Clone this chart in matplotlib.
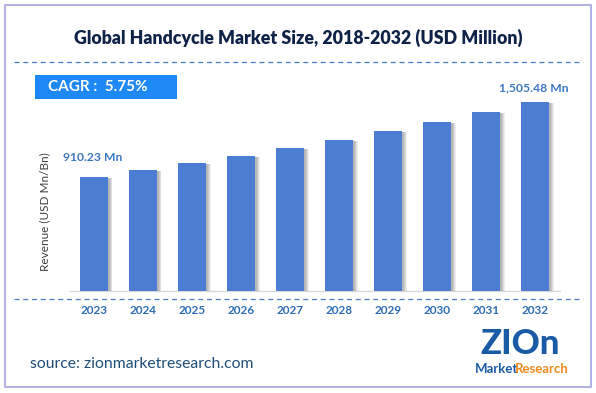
import matplotlib
matplotlib.use("Agg")
import matplotlib.pyplot as plt
import matplotlib.patheffects as pe
from matplotlib.patches import Rectangle

years = ["2023", "2024", "2025", "2026", "2027", "2028", "2029", "2030", "2031", "2032"]
revenue = [910.23, 962.0, 1020.0, 1076.0, 1139.0, 1204.0, 1274.0, 1346.0, 1424.0, 1505.48]
first_label = "910.23 Mn"
last_label = "1,505.48 Mn"
title = "Global Handcycle Market Size, 2018-2032 (USD Million)"
cagr_text = "CAGR :  5.75%"
ylabel = "Revenue (USD Mn/Bn)"
source = "source: zionmarketresearch.com"

W, H = 596, 393
fig = plt.figure(figsize=(W / 100, H / 100), dpi=100)
fig.patch.set_facecolor("white")

def fx(x):
    return x / W

def fy(y):
    return 1 - y / H

FONT = "Lato"

# outer border
fig.patches.append(Rectangle((fx(5), fy(387)), fx(586), 382 / H, transform=fig.transFigure,
                             fill=False, edgecolor="#a3a3e0", linewidth=1.2))

# title
fig.text(fx(298), fy(38), title, ha="center", va="center", fontsize=12.8,
         fontweight="heavy", color="#0f2248", family=FONT)

# dashed line under title
fig.lines.append(plt.Line2D([fx(14), fx(583)], [fy(62), fy(62)], transform=fig.transFigure,
                            color="#4a7ccc", linewidth=0.9, linestyle=(0, (4, 3))))

# CAGR box
fig.patches.append(Rectangle((fx(35), fy(99)), fx(142), 24 / H, transform=fig.transFigure,
                             facecolor="#1e88f5", edgecolor="none"))
fig.text(fx(48), fy(87), cagr_text, ha="left", va="center", fontsize=11,
         fontweight="bold", color="white", family=FONT)

# axes
ax_left, ax_right = 69.5, 560
ax_bottom, ax_top = 291.3, 80
ax = fig.add_axes([fx(ax_left), fy(ax_bottom), fx(ax_right - ax_left), (ax_bottom - ax_top) / H])
ax.set_facecolor("none")
xs = list(range(len(years)))
bars = ax.bar(xs, revenue, width=0.57, color="#4b7ed2", zorder=3)
shadow = [pe.SimplePatchShadow(offset=(o, -0.8), shadow_rgbFace="#808080", alpha=a)
          for o, a in [(3.2, 0.12), (2.6, 0.16), (2.0, 0.2), (1.4, 0.25)]]
for b in bars:
    b.set_path_effects(shadow + [pe.Normal()])
ax.set_xlim(-0.5, len(years) - 0.5)
ax.set_ylim(0, 211.3 / (189.3 / 1505.48))
for s in ["top", "right", "left"]:
    ax.spines[s].set_visible(False)
ax.spines["bottom"].set_color("#d9d9d9")
ax.spines["bottom"].set_linewidth(1.0)
ax.set_yticks([])
ax.set_xticks(xs)
ax.set_xticklabels(years, fontsize=8.5, fontweight="bold", color="#2f6db5", family=FONT)
ax.tick_params(axis="x", length=0, pad=10)

ax.annotate(first_label, (0, revenue[0]), xytext=(-1, 10), textcoords="offset points",
            ha="center", va="bottom", fontsize=8.7, fontweight="bold", color="#3a78c2", family=FONT)
ax.annotate(last_label, (len(years) - 1, revenue[-1]), xytext=(-1, 6), textcoords="offset points",
            ha="center", va="bottom", fontsize=8.7, fontweight="bold", color="#3a78c2", family=FONT)

fig.text(fx(45), fy(212), ylabel, rotation=90, ha="center", va="center", fontsize=8.5,
         color="#404040", family=FONT)

# dashed line under axis
fig.lines.append(plt.Line2D([fx(14), fx(583)], [fy(299), fy(299)], transform=fig.transFigure,
                            color="#4a7ccc", linewidth=0.9, linestyle=(0, (4, 3))))

# source
fig.text(fx(30), fy(364), source, ha="left", va="center", fontsize=11.3,
         color="#1f4e79", family=FONT)

# logo
fig.text(fx(520), fy(344), "ZIOn", ha="center", va="center", fontsize=25,
         fontweight="black", color="#1a5ba6", family=FONT)
fig.text(fx(497), fy(369), "Market", ha="center", va="center", fontsize=9.5,
         fontweight="bold", color="#1a5ba6", family=FONT)
fig.text(fx(542), fy(369), "Research", ha="center", va="center", fontsize=9.5,
         fontweight="bold", color="#f08a1c", family=FONT)

fig.savefig("out.png", dpi=100)
